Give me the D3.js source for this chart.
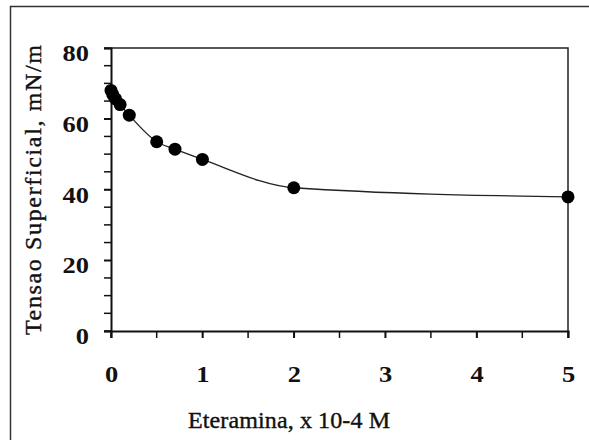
<!DOCTYPE html>
<html>
<head>
<meta charset="utf-8">
<script src="https://cdn.jsdelivr.net/npm/d3@7.9.0/dist/d3.min.js"></script>
<style>
  body { margin: 0; background: #fff; }
  svg { display: block; }
  .tick text { font-family: "Liberation Serif", "Times New Roman", serif; }
</style>
</head>
<body>
<svg id="chart" width="589" height="440"></svg>
<script>
// data
const conc = [0, 0.02, 0.05, 0.1, 0.2, 0.5, 0.7, 1, 2, 5];
const tension = [68, 66.8, 65.6, 64, 61, 53.5, 51.4, 48.5, 40.5, 37.9];
const xTicks = [0, 1, 2, 3, 4, 5];
const yTicks = [0, 20, 40, 60, 80];

const svg = d3.select('#chart');
const m = { left: 111, right: 568, top: 48, bottom: 331 };
const stretch = 1.15; // scanned labels are a bit wide

let x = d3.scaleLinear().domain([0, 5]).range([m.left, m.right]);
let y = d3.scaleLinear().domain([0, 80]).range([m.bottom, m.top]);

// outer frame (runs off the right / bottom edge)
svg.append('path')
  .attr('d', 'M10.5,440 L10.5,6.5 L589,6.5')
  .attr('fill', 'none')
  .attr('stroke', '#333')
  .attr('stroke-width', 1.5);

// plot box top + right
svg.append('path')
  .attr('d', `M${m.left},${m.top} L${m.right},${m.top} L${m.right},${m.bottom}`)
  .attr('fill', 'none')
  .attr('stroke', '#222')
  .attr('stroke-width', 1.5);

// minor ticks
let yMinor = d3.range(0, 81, 5);
svg.selectAll('.ymin').data(yMinor).join('line')
  .attr('x1', m.left - 7).attr('x2', m.left)
  .attr('y1', d => y(d)).attr('y2', d => y(d))
  .attr('stroke', '#111').attr('stroke-width', 1.5);
let xMinor = d3.range(0, 5.01, 0.5);
svg.selectAll('.xmin').data(xMinor).join('line')
  .attr('x1', d => x(d)).attr('x2', d => x(d))
  .attr('y1', m.bottom).attr('y2', m.bottom + 7)
  .attr('stroke', '#111').attr('stroke-width', 1.5);

// axes
let xAxis = svg.append('g')
  .attr('transform', `translate(0,${m.bottom})`)
  .call(d3.axisBottom(x).tickValues(xTicks).tickSize(7).tickPadding(28).tickFormat(d3.format('d')));
let yAxis = svg.append('g')
  .attr('transform', `translate(${m.left},0)`)
  .call(d3.axisLeft(y).tickValues(yTicks).tickSize(7).tickPadding(15).tickFormat(d3.format('d')));

[xAxis, yAxis].forEach(g => {
  g.select('.domain').attr('stroke', '#111').attr('stroke-width', 2);
  g.selectAll('.tick line').attr('stroke', '#111').attr('stroke-width', 1.5);
  g.selectAll('.tick text')
    .attr('fill', '#111')
    .attr('font-size', 23)
    .attr('font-weight', 'bold')
    .attr('transform', `scale(${stretch},1)`);
});
// the scale also moves x, so divide it back out
yAxis.selectAll('.tick text')
  .attr('x', -22 / stretch)
  .attr('dy', '0.55em');

// fitted curve
let line = d3.line()
  .x((d, i) => x(conc[i]))
  .y(d => y(d))
  .curve(d3.curveMonotoneX);
svg.append('path')
  .datum(tension)
  .attr('d', line)
  .attr('fill', 'none')
  .attr('stroke', '#222')
  .attr('stroke-width', 1.3);

// points
svg.selectAll('circle').data(tension).join('circle')
  .attr('cx', (d, i) => x(conc[i]))
  .attr('cy', d => y(d))
  .attr('r', 6.5)
  .attr('fill', '#000');

// axis titles
svg.append('text')
  .attr('x', 289).attr('y', 428)
  .attr('text-anchor', 'middle')
  .attr('font-family', '"Liberation Serif", "Times New Roman", serif')
  .attr('font-size', 24)
  .attr('fill', '#111')
  .attr('stroke', '#111')
  .attr('stroke-width', 0.4)
  .attr('textLength', 202)
  .text('Eteramina, x 10-4 M');

svg.append('text')
  .attr('transform', 'translate(41,190) rotate(-90)')
  .attr('text-anchor', 'middle')
  .attr('font-family', '"Liberation Serif", "Times New Roman", serif')
  .attr('font-size', 24)
  .attr('fill', '#111')
  .attr('stroke', '#111')
  .attr('stroke-width', 0.4)
  .attr('textLength', 290)
  .text('Tensao Superficial, mN/m');
</script>
</body>
</html>
